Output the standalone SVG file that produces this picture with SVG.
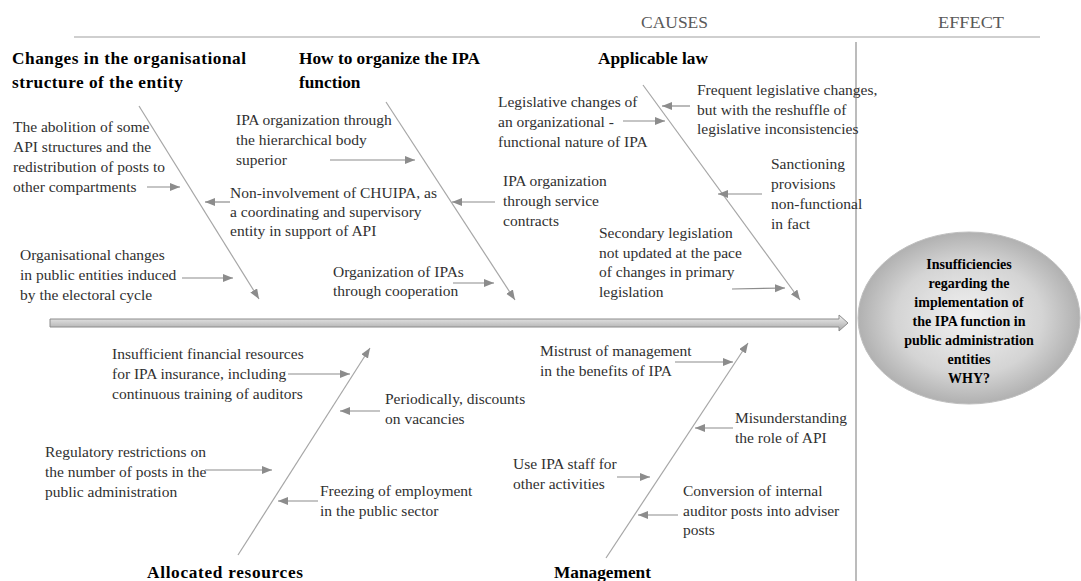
<svg xmlns="http://www.w3.org/2000/svg" width="1081" height="581" viewBox="0 0 1081 581">
<style>
.t{font-family:"Liberation Serif","Times New Roman",serif;font-size:15.5px;fill:#303030}
.h{font-family:"Liberation Serif","Times New Roman",serif;font-size:17.3px;font-weight:bold;fill:#000}
.e{font-family:"Liberation Serif","Times New Roman",serif;font-size:14px;font-weight:bold;fill:#000;text-anchor:middle}
.g{font-family:"Liberation Serif","Times New Roman",serif;font-size:17.5px;fill:#595959}
.bone{stroke:#a6a6a6;stroke-width:1.2;fill:none;marker-end:url(#ah)}
.sa{stroke:#8c8c8c;stroke-width:1.2;fill:none;marker-end:url(#ah)}
</style>
<defs>
<marker id="ah" markerUnits="userSpaceOnUse" markerWidth="12" markerHeight="10" refX="10" refY="4" orient="auto">
<path d="M0,0 L10,4 L0,8 Z" fill="#8c8c8c"/>
</marker>
<linearGradient id="sp" x1="0" y1="0" x2="0" y2="1">
<stop offset="0" stop-color="#f2f2f2"/>
<stop offset="1" stop-color="#a6a6a6"/>
</linearGradient>
<radialGradient id="el" cx="0.5" cy="0.5" r="0.55">
<stop offset="0" stop-color="#f2f2f2"/>
<stop offset="0.6" stop-color="#d4d4d4"/>
<stop offset="1" stop-color="#a6a6a6"/>
</radialGradient>
</defs>

<g id="frame">
<line x1="74" y1="37" x2="1040" y2="37" stroke="#bfbfbf" stroke-width="1.5"/>
<line x1="856" y1="42" x2="856" y2="581" stroke="#a6a6a6" stroke-width="1.5"/>
<text class="g" x="641" y="28" textLength="67" lengthAdjust="spacingAndGlyphs">CAUSES</text>
<text class="g" x="938" y="28" textLength="66" lengthAdjust="spacingAndGlyphs">EFFECT</text>
</g>

<g id="spine">
<path d="M50,319 L839,319 L839,315 L848,323 L839,331 L839,327 L50,327 Z" fill="url(#sp)" stroke="#8c8c8c" stroke-width="1"/>
</g>

<g id="connectors">
<line class="bone" x1="139" y1="106" x2="259" y2="299"/>
<line class="bone" x1="386" y1="102" x2="515" y2="300"/>
<line class="bone" x1="643" y1="85" x2="800" y2="300"/>
<line class="bone" x1="238" y1="555" x2="370" y2="348"/>
<line class="bone" x1="606" y1="558" x2="748" y2="343"/>
<line class="sa" x1="147" y1="187" x2="180" y2="187"/>
<line class="sa" x1="230" y1="202" x2="205" y2="202"/>
<line class="sa" x1="182" y1="278" x2="233" y2="278"/>
<line class="sa" x1="330" y1="160" x2="415" y2="160"/>
<line class="sa" x1="495" y1="202" x2="452" y2="202"/>
<line class="sa" x1="453" y1="283" x2="494" y2="283"/>
<line class="sa" x1="623" y1="121" x2="665" y2="121"/>
<line class="sa" x1="690" y1="106" x2="662" y2="106"/>
<line class="sa" x1="762" y1="194" x2="718" y2="194"/>
<line class="sa" x1="732" y1="289" x2="785" y2="288"/>
<line class="sa" x1="288" y1="374" x2="350" y2="374"/>
<line class="sa" x1="380" y1="411" x2="340" y2="411"/>
<line class="sa" x1="205" y1="470" x2="272" y2="470"/>
<line class="sa" x1="318" y1="501" x2="278" y2="501"/>
<line class="sa" x1="675" y1="362" x2="733" y2="362"/>
<line class="sa" x1="733" y1="428" x2="695" y2="428"/>
<line class="sa" x1="617" y1="477" x2="650" y2="477"/>
<line class="sa" x1="678" y1="515" x2="638" y2="515"/>
</g>

<g id="cat-structure">
<text class="h" x="12" y="64" textLength="234" lengthAdjust="spacing">Changes in the organisational</text>
<text class="h" x="12" y="88" textLength="171" lengthAdjust="spacing">structure of the entity</text>
</g>
<g id="cat-organize">
<text class="h" x="299" y="64">How to organize the IPA</text>
<text class="h" x="299" y="88">function</text>
</g>
<g id="cat-law">
<text class="h" x="598" y="64">Applicable law</text>
</g>
<g id="cat-resources">
<text class="h" x="147" y="578" textLength="156" lengthAdjust="spacing">Allocated resources</text>
</g>
<g id="cat-management">
<text class="h" x="554" y="578">Management</text>
</g>

<g id="c-abolition">
<text class="t" x="13" y="132">The abolition of some</text>
<text class="t" x="13" y="152">API structures and the</text>
<text class="t" x="13" y="172">redistribution of posts to</text>
<text class="t" x="13" y="192">other compartments</text>
</g>
<g id="c-electoral">
<text class="t" x="20" y="260">Organisational changes</text>
<text class="t" x="20" y="280">in public entities induced</text>
<text class="t" x="20" y="300">by the electoral cycle</text>
</g>
<g id="c-hierarchical">
<text class="t" x="236" y="125">IPA organization through</text>
<text class="t" x="236" y="145">the hierarchical body</text>
<text class="t" x="236" y="165">superior</text>
</g>
<g id="c-chuipa">
<text class="t" x="230" y="198">Non-involvement of CHUIPA, as</text>
<text class="t" x="230" y="217">a coordinating and supervisory</text>
<text class="t" x="230" y="236">entity in support of API</text>
</g>
<g id="c-cooperation">
<text class="t" x="333" y="277">Organization of IPAs</text>
<text class="t" x="333" y="296">through cooperation</text>
</g>
<g id="c-service">
<text class="t" x="503" y="186">IPA organization</text>
<text class="t" x="503" y="206">through service</text>
<text class="t" x="503" y="226">contracts</text>
</g>
<g id="c-legislative">
<text class="t" x="498" y="107">Legislative changes of</text>
<text class="t" x="498" y="127">an organizational -</text>
<text class="t" x="498" y="147">functional nature of IPA</text>
</g>
<g id="c-frequent">
<text class="t" x="697" y="95">Frequent legislative changes,</text>
<text class="t" x="697" y="115">but with the reshuffle of</text>
<text class="t" x="697" y="134">legislative inconsistencies</text>
</g>
<g id="c-sanctioning">
<text class="t" x="771" y="169">Sanctioning</text>
<text class="t" x="771" y="189">provisions</text>
<text class="t" x="771" y="209">non-functional</text>
<text class="t" x="771" y="229">in fact</text>
</g>
<g id="c-secondary">
<text class="t" x="599" y="238">Secondary legislation</text>
<text class="t" x="599" y="258">not updated at the pace</text>
<text class="t" x="599" y="277">of changes in primary</text>
<text class="t" x="599" y="297">legislation</text>
</g>
<g id="c-financial">
<text class="t" x="112" y="359">Insufficient financial resources</text>
<text class="t" x="112" y="379">for IPA insurance, including</text>
<text class="t" x="112" y="399">continuous training of auditors</text>
</g>
<g id="c-vacancies">
<text class="t" x="385" y="404">Periodically, discounts</text>
<text class="t" x="385" y="424">on vacancies</text>
</g>
<g id="c-regulatory">
<text class="t" x="45" y="457">Regulatory restrictions on</text>
<text class="t" x="45" y="477">the number of posts in the</text>
<text class="t" x="45" y="497">public administration</text>
</g>
<g id="c-freezing">
<text class="t" x="320" y="496">Freezing of employment</text>
<text class="t" x="320" y="516">in the public sector</text>
</g>
<g id="c-mistrust">
<text class="t" x="540" y="356">Mistrust of management</text>
<text class="t" x="540" y="376">in the benefits of IPA</text>
</g>
<g id="c-misunderstanding">
<text class="t" x="735" y="423">Misunderstanding</text>
<text class="t" x="735" y="443">the role of API</text>
</g>
<g id="c-staff">
<text class="t" x="513" y="469">Use IPA staff for</text>
<text class="t" x="513" y="489">other activities</text>
</g>
<g id="c-conversion">
<text class="t" x="683" y="496">Conversion of internal</text>
<text class="t" x="683" y="516">auditor posts into adviser</text>
<text class="t" x="683" y="535">posts</text>
</g>

<g id="effect">
<ellipse cx="969" cy="318" rx="111" ry="86" fill="url(#el)" stroke="#bfbfbf" stroke-width="1"/>
<text class="e" x="969" y="269">Insufficiencies</text>
<text class="e" x="969" y="288">regarding the</text>
<text class="e" x="969" y="307">implementation of</text>
<text class="e" x="969" y="326">the IPA function in</text>
<text class="e" x="969" y="345">public administration</text>
<text class="e" x="969" y="364">entities</text>
<text class="e" x="969" y="383">WHY?</text>
</g>
</svg>
